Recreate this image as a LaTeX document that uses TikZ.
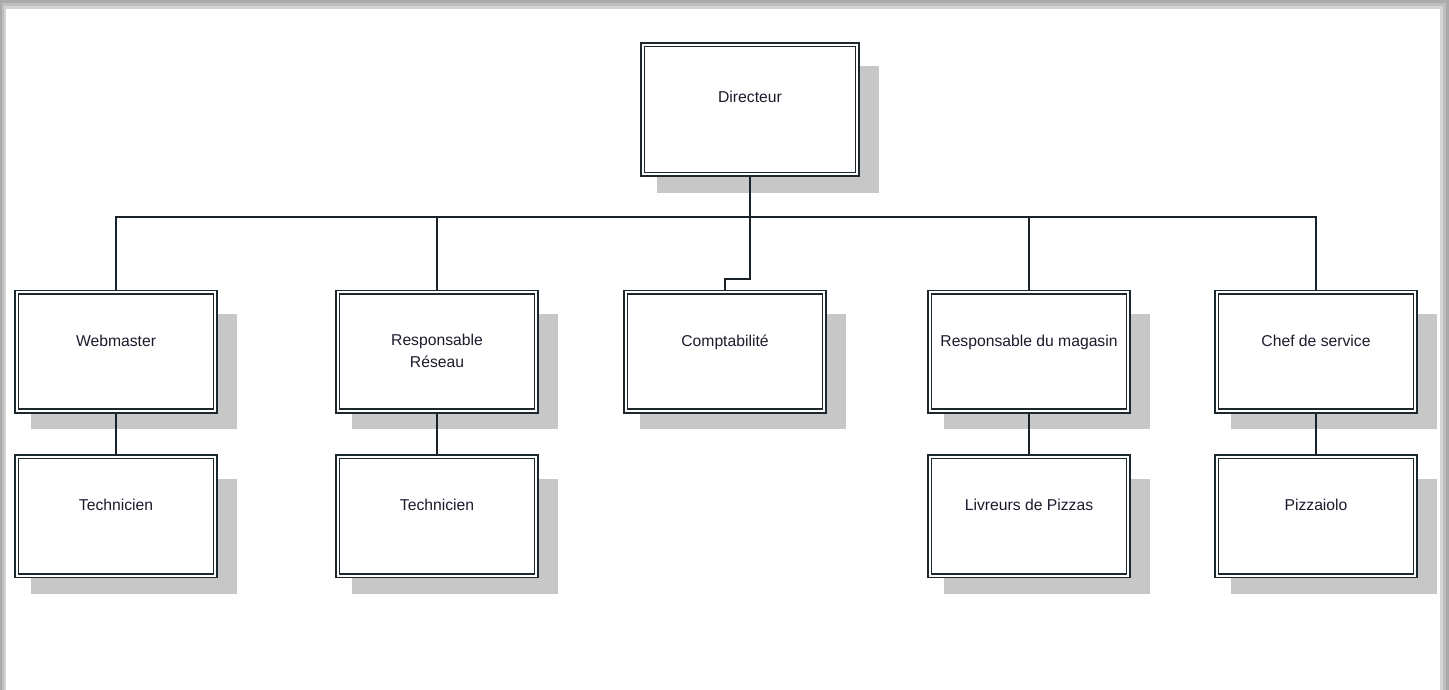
\documentclass[tikz,border=0pt]{standalone}
\usepackage{fontspec}
\setmainfont{Liberation Sans}
\usetikzlibrary{backgrounds}

\definecolor{boxline}{RGB}{28,40,46}
\definecolor{linkcol}{RGB}{24,34,40}
\definecolor{txtcol}{RGB}{26,28,44}
\definecolor{shadecol}{RGB}{199,199,199}
\definecolor{rimA}{RGB}{170,170,170}
\definecolor{rimB}{RGB}{190,190,190}
\definecolor{rimC}{RGB}{212,212,212}

\tikzset{
  orgbox/.style={rectangle, draw=boxline, line width=1.6pt, double=white,
    double distance=2pt, fill=white, inner sep=0pt,
    minimum width=198.8pt, minimum height=118.8pt},
  topbox/.style={orgbox, minimum width=214.8pt, minimum height=129.8pt},
  lbl/.style={anchor=base, inner sep=0pt, text=txtcol,
    font=\fontsize{15.7}{19}\selectfont},
  link/.style={draw=linkcol, line width=1.8pt},
}

\begin{document}
\begin{tikzpicture}[x=1pt, y=-1pt]
\useasboundingbox (0,0) rectangle (1449,690);

% boxes
\node[topbox] (dir) at (750,109.5) {};
\node[orgbox] (wm) at (116,351.5) {};
\node[orgbox] (rr) at (437,351.5) {};
\node[orgbox] (cp) at (725,351.5) {};
\node[orgbox] (rm) at (1029,351.5) {};
\node[orgbox] (cs) at (1316,351.5) {};
\node[orgbox] (t1) at (116,516.2) {};
\node[orgbox] (t2) at (437,516.2) {};
\node[orgbox] (lp) at (1029,516.2) {};
\node[orgbox] (pz) at (1316,516.2) {};

\coordinate (bus) at (750,217);
\coordinate (cpjog) at (750,279);

\begin{scope}[on background layer]
  % page frame with soft grey rims
  \fill[rimA] (0,0) rectangle (1449,690);
  \fill[rimB] (2,3) rectangle (1446,690);
  \fill[rimC] (4,6) rectangle (1443,690);
  \fill[white] (6,9) rectangle (1440,690);
  % drop shadows
  \foreach \b in {dir,wm,rr,cp,rm,cs,t1,t2,lp,pz}{
    \fill[shadecol] ([shift={(15.4,22.6)}]\b.north west)
      rectangle ([shift={(20.6,17.4)}]\b.south east);
  }
  % connectors
  \draw[link] (dir.south) -- (bus);
  \draw[link] (wm.north) -- (wm.north |- bus) -- (cs.north |- bus) -- (cs.north);
  \draw[link] (rr.north) -- (rr.north |- bus);
  \draw[link] (rm.north) -- (rm.north |- bus);
  \draw[link] (bus) -- (cpjog) -| (cp.north);
  \draw[link] (wm.south) -- (t1.north);
  \draw[link] (rr.south) -- (t2.north);
  \draw[link] (rm.south) -- (lp.north);
  \draw[link] (cs.south) -- (pz.north);
\end{scope}

% labels
\node[lbl] (dirT) at (750,103) {Directeur};
\node[lbl] (wmT) at (116,346.5) {Webmaster};
\node[lbl] (rrT1) at (437,345.5) {Responsable};
\node[lbl] (rrT2) at (437,367.5) {Réseau};
\node[lbl] (cpT) at (725,346.5) {Comptabilité};
\node[lbl] (rmT) at (1029,346.5) {Responsable du magasin};
\node[lbl] (csT) at (1316,346.5) {Chef de service};
\node[lbl] (t1T) at (116,510) {Technicien};
\node[lbl] (t2T) at (437,510) {Technicien};
\node[lbl] (lpT) at (1029,510) {Livreurs de Pizzas};
\node[lbl] (pzT) at (1316,510) {Pizzaiolo};
\end{tikzpicture}
\end{document}
